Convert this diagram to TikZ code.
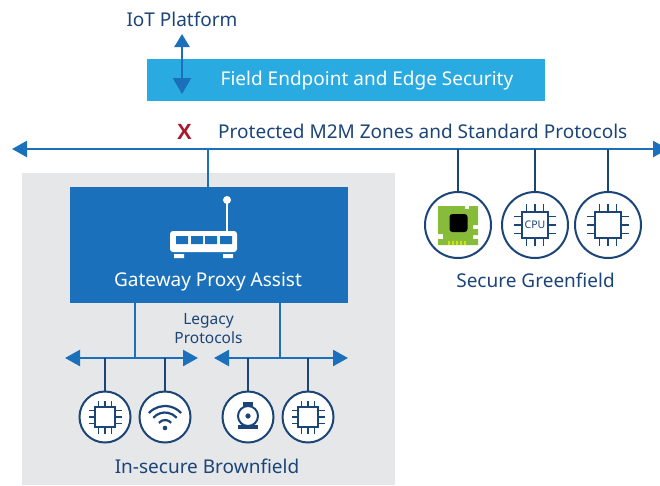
\documentclass[tikz,border=0pt]{standalone}
\usepackage{fontspec}
\setmainfont{Noto Sans}
\newfontfamily\crossfont{Liberation Sans}
\usepackage{xcolor}
\usetikzlibrary{arrows.meta,positioning}
\definecolor{navy}{HTML}{1B4477}
\definecolor{gwblue}{HTML}{1A70BA}
\definecolor{skyblue}{HTML}{29ABE2}
\definecolor{panelgray}{HTML}{E6E7E9}
\definecolor{xred}{HTML}{A6192E}
\definecolor{boardgreen}{HTML}{86BC3A}

\tikzset{
  device/.style={draw=navy, fill=white, circle, line width=2pt, inner sep=0pt},
  devbig/.style={device, minimum size=66pt},
  devsmall/.style={device, minimum size=51pt},
  drop/.style={draw=navy, line width=2.2pt},
  feed/.style={draw=gwblue, line width=2pt},
  bus/.style={draw=gwblue, line width=2.4pt, {Triangle[length=15pt,width=16pt]}-{Triangle[length=15pt,width=16pt]}},
  label/.style={text=navy, font=\fontsize{19}{22}\selectfont},
  chip/.pic={
    \draw[navy, line width=1.4pt, fill=white] (-#1,-#1) rectangle (#1,#1);
    \foreach \p in {-0.63,0,0.63} {
      \draw[navy, line width=1.3pt] (\p*#1,-#1) -- (\p*#1,-1.65*#1);
      \draw[navy, line width=1.3pt] (\p*#1,#1) -- (\p*#1,1.65*#1);
      \draw[navy, line width=1.3pt] (-#1,\p*#1) -- (-1.65*#1,\p*#1);
      \draw[navy, line width=1.3pt] (#1,\p*#1) -- (1.65*#1,\p*#1);
    }
  }
}

\begin{document}
\begin{tikzpicture}[x=1pt, y=-1pt, >=Stealth]
  \useasboundingbox (0,0) rectangle (660,485);

  % Panel
  \node[fill=panelgray, minimum width=373pt, minimum height=312pt, inner sep=0pt] (panel) at (208.5,329) {};

  % Top band
  \node[fill=skyblue, minimum width=398pt, minimum height=42pt, inner sep=0pt] (edge) at (346,80) {};
  \node[text=white, font=\fontsize{19}{22}\selectfont] (edgetext) at (367,80.5) {Field Endpoint and Edge Security};
  \node[label] (platform) at (182,19) {IoT Platform};
  \coordinate (uptip) at (182,34);
  \coordinate (downtip) at (182,94);
  \draw[draw=gwblue, line width=2.4pt, {Triangle[length=13pt,width=15pt]}-{Triangle[length=16pt,width=18pt]}] (uptip) -- (downtip);

  % Main bus
  \coordinate (mainl) at (12,149);
  \coordinate (mainr) at (668,149);
  \draw[bus] (mainl) -- (mainr);
  \node[text=xred, font=\crossfont\fontsize{22}{24}\bfseries\selectfont, inner sep=0pt] (cross) at (184.5,132) {X};
  \node[label, anchor=west, inner sep=0pt] (zones) at (218,131) {Protected M2M Zones and Standard Protocols};

  % Gateway
  \node[fill=gwblue, minimum width=278pt, minimum height=116pt, inner sep=0pt] (gateway) at (209,245) {};
  \node[text=white, font=\fontsize{19}{22}\selectfont] (gwtext) at (208,282) {Gateway Proxy Assist};
  \draw[feed] (208,149) -- (208,187);

  % Router
  \draw[white, line width=2.4pt] (227,232) -- (227,200);
  \fill[white] (227,200) circle (4);
  \fill[white, rounded corners=3pt] (170,231) rectangle (237,252);
  \fill[gwblue] (176,236) rectangle (188,244) (191,236) rectangle (203,244) (205,236) rectangle (217,244) (220,236) rectangle (232,244);
  \fill[white] (174,254) rectangle (184,258) (223,254) rectangle (233,258);

  % Greenfield devices
  \node[devbig] (board) at (458,225) {};
  \node[devbig] (cpu) at (535,225) {};
  \node[devbig] (soc) at (608,225) {};
  \draw[drop] (board.north |- mainl) -- (board.north);
  \draw[drop] (cpu.north |- mainl) -- (cpu.north);
  \draw[drop] (soc.north |- mainl) -- (soc.north);
  \node[label] (greenfield) at (535.5,280) {Secure Greenfield};

  % Board picture
  \fill[boardgreen] (438,206) -- (465,206) -- (465,209) -- (469,209) -- (469,206) -- (478,206) -- (478,225) -- (473,225) -- (473,229) -- (478,229) -- (478,235) -- (473,235) -- (473,239) -- (478,239) -- (478,245) -- (438,245) -- (438,239) -- (443,239) -- (443,234) -- (438,234) -- cycle;
  \fill[black, rounded corners=3pt] (449.5,214) rectangle (467.5,232);
  \foreach \p in {448,452,456,460,464} {
    \fill[yellow!80!green] (\p,241) rectangle (\p+2.2,245);
  }

  % Chips on the right
  \pic at (535,225) {chip=13};
  \node[text=navy, font=\fontsize{10.5}{11}\selectfont, inner sep=0pt] (cpulabel) at (535,225) {CPU};
  \pic at (608,225) {chip=13};

  % Legacy buses
  \node[text=navy, align=center, font=\fontsize{15.5}{19}\selectfont] (legacy) at (208.5,329) {Legacy\\Protocols};
  \coordinate (busal) at (65,358);
  \coordinate (busar) at (198,358);
  \coordinate (busbl) at (214,358);
  \coordinate (busbr) at (348,358);
  \draw[bus] (busal) -- (busar);
  \draw[bus] (busbl) -- (busbr);
  \draw[feed] (135,303) -- (135,358);
  \draw[feed] (280,303) -- (280,358);

  % Brownfield devices
  \node[devsmall] (chipa) at (105,417) {};
  \node[devsmall] (wifi) at (165,417) {};
  \node[devsmall] (camera) at (248,417) {};
  \node[devsmall] (chipb) at (308,417) {};
  \draw[drop] (chipa.north |- busal) -- (chipa.north);
  \draw[drop] (wifi.north |- busal) -- (wifi.north);
  \draw[drop] (camera.north |- busbl) -- (camera.north);
  \draw[drop] (chipb.north |- busbl) -- (chipb.north);
  \node[label] (brownfield) at (207,466) {In-secure Brownfield};

  % Icons
  \pic at (105,417) {chip=10};
  \pic at (308,417) {chip=10};
  \draw[navy, line width=2.2pt] (165,428) ++(-137:22) arc[start angle=-137, end angle=-43, radius=22];
  \draw[navy, line width=2.2pt] (165,428) ++(-139:15.5) arc[start angle=-139, end angle=-41, radius=15.5];
  \draw[navy, line width=2.2pt] (165,428) ++(-140:8) arc[start angle=-140, end angle=-40, radius=8];
  \fill[navy] (165,428) circle (2.3);
  \fill[navy] (243,402) rectangle (253,406);
  \draw[navy, line width=2pt] (248,416) circle (10);
  \fill[navy] (248,416) circle (2.6);
  \fill[navy] (238,425) rectangle (258,429);
\end{tikzpicture}
\end{document}
